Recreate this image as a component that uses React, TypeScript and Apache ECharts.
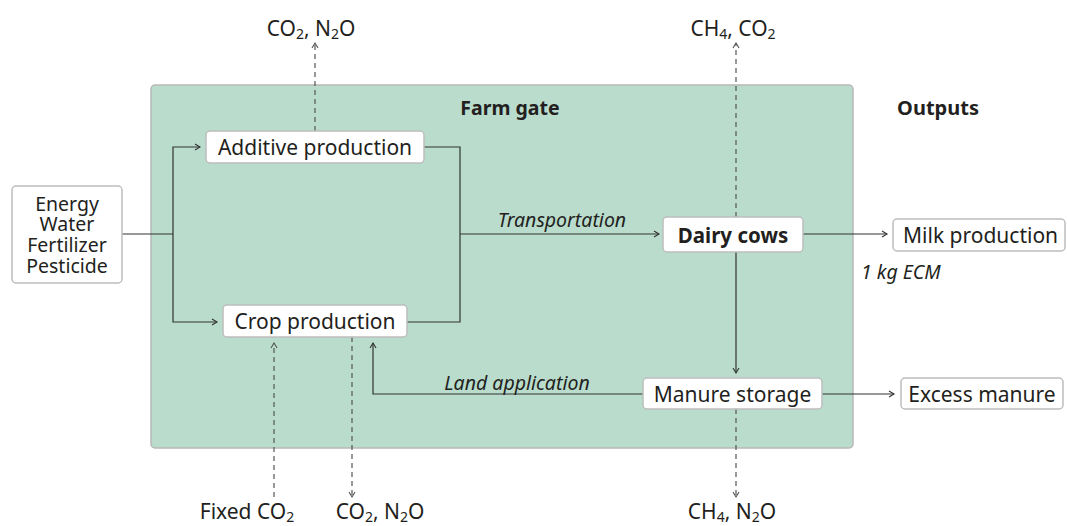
import React, { useEffect, useRef } from "react";
import * as echarts from "echarts";

// ---- content ----
const inputLines = ["Energy", "Water", "Fertilizer", "Pesticide"];
const processNodes = ["Additive production", "Crop production", "Dairy cows", "Manure storage"];
const outputNodes = ["Milk production", "Excess manure"];
const sectionTitles = ["Farm gate", "Outputs"];
const flowLabels = ["Transportation", "Land application", "1 kg ECM"];
// emissions: [prefix, sub, middle, sub, suffix]
const emissionTop = [
  ["CO", "2", ", N", "2", "O"],
  ["CH", "4", ", CO", "2", ""],
];
const emissionBottom = [
  ["Fixed CO", "2", "", "", ""],
  ["CO", "2", ", N", "2", "O"],
  ["CH", "4", ", N", "2", "O"],
];

// ---- layout ----
const FONT = "'Noto Sans', 'Open Sans', sans-serif";
const TEXT = "#231f20";
const LINE = "#333333";
const DASH = "#555555";

const boxLayout: Record<string, [number, number, number, number]> = {
  "Additive production": [206, 131, 218, 32],
  "Crop production": [223, 305, 184, 32],
  "Dairy cows": [663, 217, 140, 35],
  "Manure storage": [643, 378, 179, 31],
  "Milk production": [893, 219, 172, 32],
  "Excess manure": [901, 378, 162, 31],
};

function richGas(parts: string[]) {
  const [a, s1, b, s2, c] = parts;
  let t = "";
  if (a) t += `{n|${a}}`;
  if (s1) t += `{s|${s1}}`;
  if (b) t += `{n|${b}}`;
  if (s2) t += `{s|${s2}}`;
  if (c) t += `{n|${c}}`;
  return t;
}

function arrowHead(x: number, y: number, dir: "up" | "down" | "left" | "right", color: string) {
  const L = 5, W = 3;
  let pts: number[][] = [];
  if (dir === "right") pts = [[x - L, y - W], [x, y], [x - L, y + W]];
  if (dir === "left") pts = [[x + L, y - W], [x, y], [x + L, y + W]];
  if (dir === "up") pts = [[x - W, y + L], [x, y], [x + W, y + L]];
  if (dir === "down") pts = [[x - W, y - L], [x, y], [x + W, y - L]];
  return { type: "polyline", silent: true, shape: { points: pts }, style: { stroke: color, lineWidth: 1.1, fill: null } };
}

function poly(points: number[][], dashed = false) {
  return {
    type: "polyline",
    silent: true,
    shape: { points },
    style: {
      stroke: dashed ? DASH : LINE,
      lineWidth: 1.2,
      fill: null,
      lineDash: dashed ? [5, 4] : null,
    },
  };
}

function box(label: string, bold = false, leftAlign = false) {
  const [x, y, w, h] = boxLayout[label];
  return [
    {
      type: "rect",
      silent: true,
      shape: { x, y, width: w, height: h, r: 4 },
      style: { fill: "#ffffff", stroke: "#bdbdbd", lineWidth: 1.5 },
    },
    {
      type: "text",
      silent: true,
      style: {
        text: label,
        x: leftAlign ? x + 10 : x + w / 2,
        y: y + h / 2,
        align: leftAlign ? "left" : "center",
        verticalAlign: "middle",
        fontSize: bold ? 20.5 : 21,
        fontWeight: bold ? "bold" : "normal",
        fontFamily: FONT,
        fill: TEXT,
      },
    },
  ];
}

function gasText(parts: string[], x: number, y: number) {
  return {
    type: "text",
    silent: true,
    style: {
      text: richGas(parts),
      x,
      y,
      align: "center",
      verticalAlign: "middle",
      fill: TEXT,
      rich: {
        n: { fontSize: 21, fontFamily: FONT, fill: TEXT },
        s: { fontSize: 14, fontFamily: FONT, fill: TEXT, padding: [10, 0, 0, 0] },
      },
    },
  };
}

function label(text: string, x: number, y: number, opts: any = {}) {
  return {
    type: "text",
    silent: true,
    style: {
      text,
      x,
      y,
      align: opts.align || "center",
      verticalAlign: "middle",
      fontSize: opts.fontSize || 19.5,
      fontStyle: opts.italic ? "italic" : "normal",
      fontWeight: opts.bold ? "bold" : "normal",
      fontFamily: FONT,
      fill: TEXT,
    },
  };
}

export default function App() {
  const ref = useRef<HTMLDivElement>(null);
  useEffect(() => {
    if (!ref.current) return;
    const chart = echarts.init(ref.current, null, { renderer: "svg" });
    const elements: any[] = [];

    // farm gate area
    elements.push({
      type: "rect",
      silent: true,
      shape: { x: 151, y: 85, width: 702, height: 363, r: 4 },
      style: { fill: "#b9dccd", stroke: "#b8b8b8", lineWidth: 1.5 },
    });

    // section titles
    elements.push(label(sectionTitles[0], 510, 107, { bold: true, fontSize: 19.5 }));
    elements.push(label(sectionTitles[1], 938, 107, { bold: true, fontSize: 20 }));

    // solid connectors
    elements.push(poly([[122, 234], [173, 234]]));
    elements.push(poly([[200, 147], [173, 147], [173, 322], [217, 322]]));
    elements.push(arrowHead(200, 147, "right", LINE));
    elements.push(arrowHead(217, 322, "right", LINE));
    elements.push(poly([[424, 147], [460, 147], [460, 322], [407, 322]]));
    elements.push(poly([[460, 234], [659, 234]]));
    elements.push(arrowHead(659, 234, "right", LINE));
    elements.push(poly([[803, 234], [887, 234]]));
    elements.push(arrowHead(887, 234, "right", LINE));
    elements.push(poly([[736, 252], [736, 373]]));
    elements.push(arrowHead(736, 373, "down", LINE));
    elements.push(poly([[643, 394], [373, 394], [373, 343]]));
    elements.push(arrowHead(373, 343, "up", LINE));
    elements.push(poly([[822, 394], [894, 394]]));
    elements.push(arrowHead(894, 394, "right", LINE));

    // dashed emission lines
    elements.push(poly([[315, 131], [315, 43]], true));
    elements.push(arrowHead(315, 43, "up", DASH));
    elements.push(poly([[736, 217], [736, 43]], true));
    elements.push(arrowHead(736, 43, "up", DASH));
    elements.push(poly([[274, 497], [274, 343]], true));
    elements.push(arrowHead(274, 343, "up", DASH));
    elements.push(poly([[352, 337], [352, 497]], true));
    elements.push(arrowHead(352, 497, "down", DASH));
    elements.push(poly([[736, 409], [736, 497]], true));
    elements.push(arrowHead(736, 497, "down", DASH));

    // input box
    elements.push({
      type: "rect",
      silent: true,
      shape: { x: 12, y: 186, width: 110, height: 97, r: 4 },
      style: { fill: "#ffffff", stroke: "#bdbdbd", lineWidth: 1.5 },
    });
    inputLines.forEach((t, i) => {
      elements.push(label(t, 67, 203 + i * 20.7, { fontSize: 19.5 }));
    });

    // process and output boxes
    elements.push(...box(processNodes[0]));
    elements.push(...box(processNodes[1]));
    elements.push(...box(processNodes[2], true));
    elements.push(...box(processNodes[3]));
    elements.push(...box(outputNodes[0], false, true));
    elements.push(...box(outputNodes[1]));

    // flow labels
    elements.push(label(flowLabels[0], 562, 219, { italic: true }));
    elements.push(label(flowLabels[1], 517, 382, { italic: true }));
    elements.push(label(flowLabels[2], 861, 271, { italic: true, align: "left" }));

    // emission labels
    elements.push(gasText(emissionTop[0], 311, 28));
    elements.push(gasText(emissionTop[1], 733, 28));
    elements.push(gasText(emissionBottom[0], 247, 511));
    elements.push(gasText(emissionBottom[1], 380, 511));
    elements.push(gasText(emissionBottom[2], 732, 511));

    chart.setOption({ animation: false, graphic: { elements } });
    return () => chart.dispose();
  }, []);
  return (
    <div
      ref={ref}
      style={{ position: "fixed", left: 0, top: 0, width: 1067, height: 526, background: "#ffffff" }}
    />
  );
}
